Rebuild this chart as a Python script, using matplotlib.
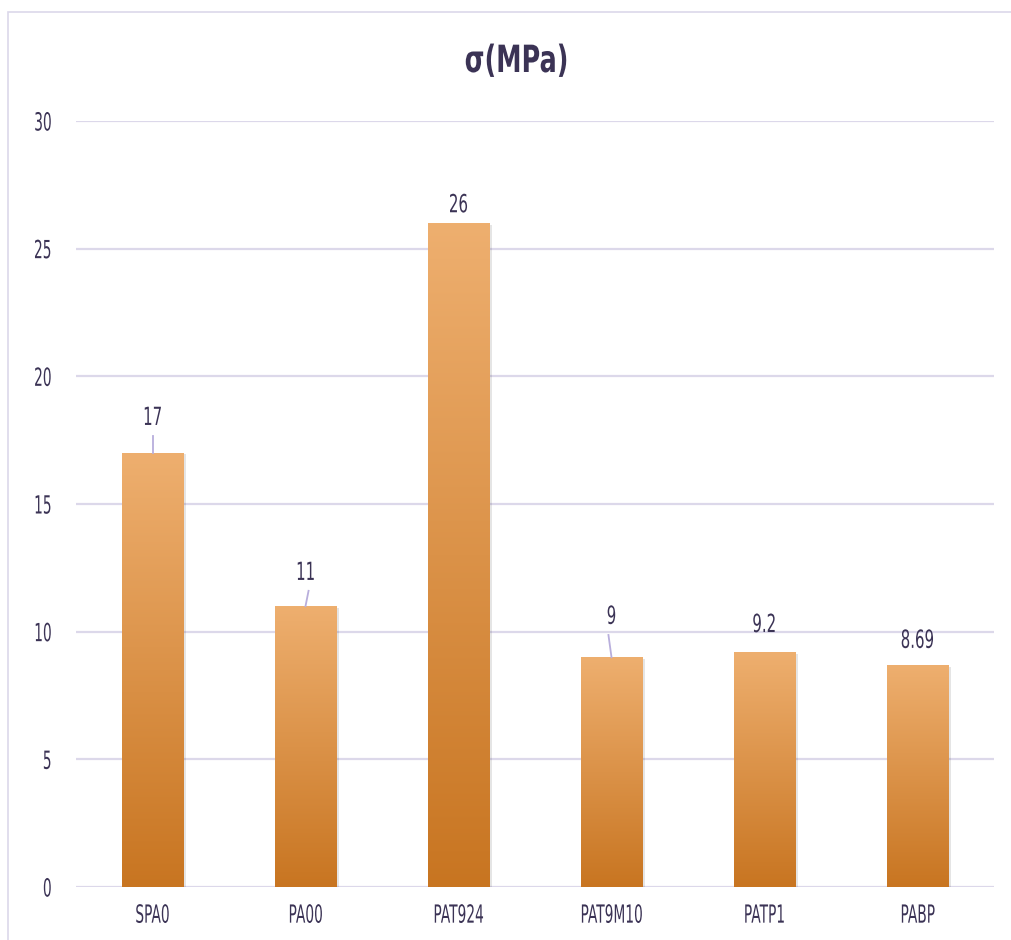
import matplotlib
matplotlib.use("Agg")
import matplotlib.pyplot as plt
import numpy as np
from matplotlib.colors import LinearSegmentedColormap
from matplotlib.patches import Rectangle
from matplotlib.patheffects import AbstractPathEffect
from matplotlib.transforms import Affine2D

categories = ["SPA0", "PA00", "PAT924", "PAT9M10", "PATP1", "PABP"]
values = [17, 11, 26, 9, 9.2, 8.69]
labels = ["17", "11", "26", "9", "9.2", "8.69"]
yticks = [0, 5, 10, 15, 20, 25, 30]

plt.rcParams['font.family'] = ["DejaVu Sans"]

txt = "#3B3355"
grid = "#DCD8EA"


class Squeeze(AbstractPathEffect):
    """Draw text glyphs horizontally condensed (text stays a real Text artist)."""
    def __init__(self, sx=0.58, anchor="center"):
        super().__init__()
        self.sx = sx
        self.anchor = anchor

    def draw_path(self, renderer, gc, tpath, affine, rgbFace=None):
        ext = tpath.get_extents()
        if self.anchor == "right":
            cx = ext.x1
        elif self.anchor == "left":
            cx = ext.x0
        else:
            cx = (ext.x0 + ext.x1) / 2
        t = Affine2D().translate(-cx, 0).scale(self.sx, 1).translate(cx, 0)
        renderer.draw_path(gc, tpath, t + affine, rgbFace)


fig = plt.figure(figsize=(10.11, 9.4), dpi=100)
fig.add_artist(Rectangle((8/1011, -0.01), 1.1, 1 - 12/940 + 0.01, transform=fig.transFigure,
                         fill=False, edgecolor=grid, lw=1.2))
ax = fig.add_axes([76/1011, 1 - 887/940, (994-76)/1011, (887-121)/940])
ax.set_xlim(-0.5, len(categories) - 0.5)
ax.set_ylim(0, 30)
ax.set_yticks(yticks)
ax.set_yticklabels([str(t) for t in yticks], fontsize=18, color=txt,
                   path_effects=[Squeeze(0.55, "right")])
ax.set_xticks(range(len(categories)))
ax.set_xticklabels(categories, fontsize=18, color=txt,
                   path_effects=[Squeeze(0.55, "center")])
ax.tick_params(length=0)
ax.tick_params(axis='y', pad=17)
ax.tick_params(axis='x', pad=12)
for s in ax.spines.values():
    s.set_visible(False)
ax.grid(axis='y', color=grid, lw=1.6)
ax.set_axisbelow(True)

cmap = LinearSegmentedColormap.from_list("g", ["#C87521", "#EEAF6F"])
grad = np.linspace(0, 1, 256).reshape(-1, 1)
w = 0.405
bars = ax.bar(range(len(values)), values, width=w, color="none", zorder=2)
for i, (b, v) in enumerate(zip(bars, values)):
    ax.add_patch(Rectangle((i - w/2 + 0.015, -0.06), w, v, color="#000000", alpha=0.10, zorder=1.5, lw=0))
    im = ax.imshow(grad, cmap=cmap, origin='lower', aspect='auto',
                   extent=(i - w/2, i + w/2, 0, v), zorder=2)
    im.set_clip_path(b)

# data labels (label centre heights)
lab_y = [18.37, 12.3, 26.7, 10.58, 10.26, 9.64]
for i, (l, ly) in enumerate(zip(labels, lab_y)):
    ax.text(i, ly, l, ha='center', va='center', fontsize=18, color=txt,
            path_effects=[Squeeze(0.6, "center")])
# leader lines
lc = "#B8AEDC"
ax.plot([0, 0], [17, 17.67], color=lc, lw=1.3, zorder=3)
ax.plot([1.0, 1.02], [11, 11.6], color=lc, lw=1.3, zorder=3)
ax.plot([3.0, 2.98], [9, 9.87], color=lc, lw=1.3, zorder=3)

fig.text(517/1011, 1 - 62/940, "σ(MPa)", ha='center', va='center', fontsize=27,
         fontweight='bold', color=txt, path_effects=[Squeeze(0.68, "center")])

fig.savefig("out.png", dpi=100)
